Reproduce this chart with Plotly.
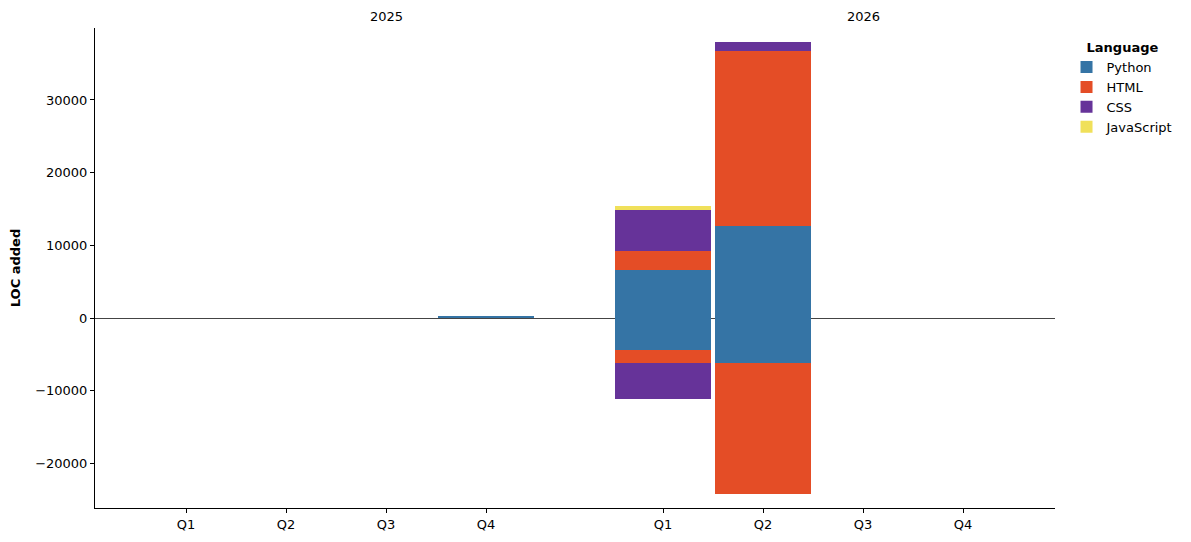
import plotly.graph_objects as go

years = ["2025", "2026"]
quarters = ["Q1", "Q2", "Q3", "Q4"]
year_offsets = [0.0, 4.77]

languages = ["Python", "HTML", "CSS", "JavaScript"]
colors = ["#3574a5", "#e44d26", "#663399", "#f0e05a"]

# values per (year, quarter) in order 2025 Q1..Q4, 2026 Q1..Q4
python_added = [0, 0, 0, 300, 6600, 12700, 0, 0]
html_added = [0, 0, 0, 0, 2620, 24030, 0, 0]
css_added = [0, 0, 0, 0, 5640, 1230, 0, 0]
js_added = [0, 0, 0, 0, 540, 0, 0, 0]

python_removed = [0, 0, 0, 0, -4400, -6190, 0, 0]
html_removed = [0, 0, 0, 0, -1800, -17980, 0, 0]
css_removed = [0, 0, 0, 0, -4940, 0, 0, 0]
js_removed = [0, 0, 0, 0, 0, 0, 0, 0]

added = [python_added, html_added, css_added, js_added]
removed = [python_removed, html_removed, css_removed, js_removed]

positions = [off + i for off in year_offsets for i in range(len(quarters))]
tick_text = [q for _ in years for q in quarters]

fig = go.Figure()
for lang, col, pos_vals, neg_vals in zip(languages, colors, added, removed):
    fig.add_trace(go.Bar(
        x=positions, y=pos_vals, name=lang, legendgroup=lang,
        marker=dict(color=col, line=dict(width=0)), width=0.96,
    ))
    fig.add_trace(go.Bar(
        x=positions, y=neg_vals, name=lang, legendgroup=lang, showlegend=False,
        marker=dict(color=col, line=dict(width=0)), width=0.96,
    ))

for yi, yr in enumerate(years):
    fig.add_annotation(
        x=positions[yi * len(quarters) + 2], y=1.0, xref="x", yref="paper",
        text=yr, showarrow=False, yanchor="bottom", yshift=2,
        font=dict(size=13, color="black"),
    )

fig.update_layout(
    width=1191, height=542,
    barmode="relative",
    bargap=0,
    plot_bgcolor="white", paper_bgcolor="white",
    margin=dict(l=87, r=144, t=20, b=42, autoexpand=False),
    font=dict(family="DejaVu Sans", size=13, color="black"),
    showlegend=True,
    legend=dict(
        x=1.012, y=0.985, xanchor="left", yanchor="top",
        title=dict(text="<b>Language</b>", side="top center", font=dict(size=13)),
        font=dict(size=13), tracegroupgap=0, itemwidth=30,
    ),
)
fig.update_xaxes(
    range=[-0.91, 8.69],
    tickmode="array", tickvals=positions, ticktext=tick_text,
    showline=True, linecolor="black", linewidth=1,
    ticks="outside", ticklen=4, tickcolor="black",
    showgrid=False, zeroline=False,
)
fig.update_yaxes(
    range=[-26130, 39900],
    tickmode="array", tickvals=[-20000, -10000, 0, 10000, 20000, 30000],
    ticktext=["\u221220000", "\u221210000", "0", "10000", "20000", "30000"],
    showline=True, linecolor="black", linewidth=1,
    ticks="outside", ticklen=4, tickcolor="black",
    showgrid=False,
    zeroline=True, zerolinecolor="#444444", zerolinewidth=0.8,
    title=dict(text="<b>LOC added</b>", standoff=12, font=dict(size=13)),
)

fig.write_html("out.html")
